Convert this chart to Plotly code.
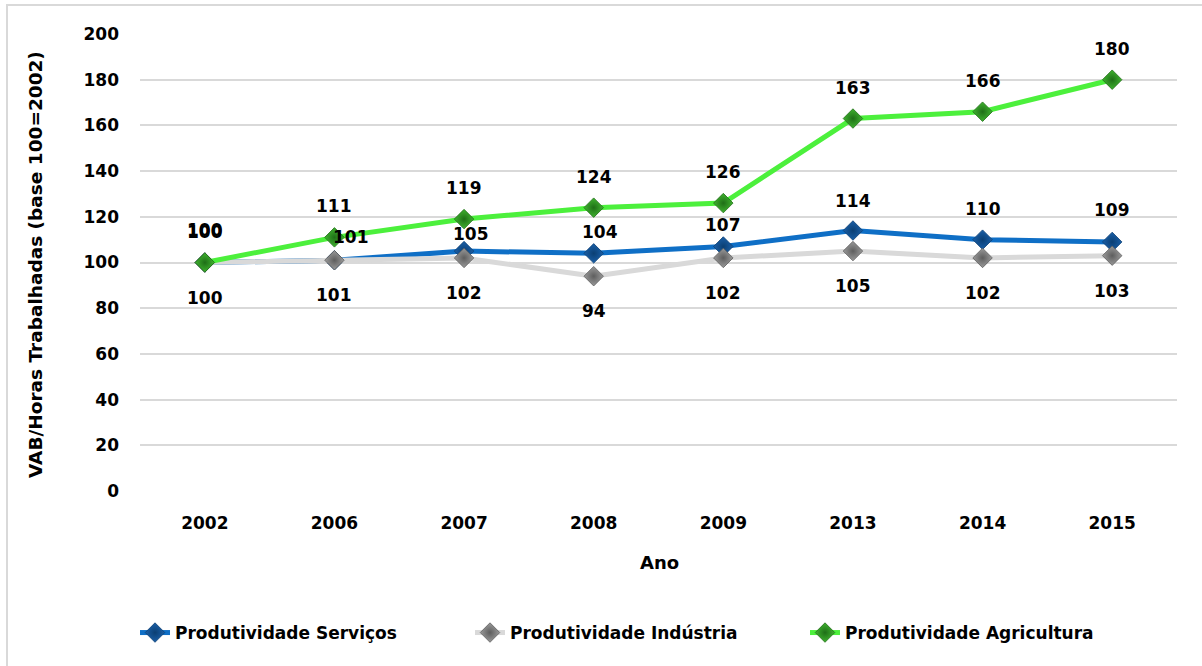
import plotly.graph_objects as go

# Productivity index by sector (base 100 = 2002)
anos = ["2002", "2006", "2007", "2008", "2009", "2013", "2014", "2015"]
servicos = [100, 101, 105, 104, 107, 114, 110, 109]
industria = [100, 101, 102, 94, 102, 105, 102, 103]
agricultura = [100, 111, 119, 124, 126, 163, 166, 180]
y_ticks = [0, 20, 40, 60, 80, 100, 120, 140, 160, 180, 200]

# label offsets (pixels) for the services series, which sits between the others
servicos_dx = [0, 17, 7, 6, 0, 0, 0, 0]
servicos_dy = [33, 23, 17, 21, 22, 30, 31, 32]

FONT = "DejaVu Sans"
FS = 17
W, H = 1202, 666
L, R, T, B = 140, 25, 34, 175
pw, ph = W - L - R, H - T - B

series = [
    ("Produtividade Serviços", servicos, "#0F6FC6", "#1A5FA8", "#0B3F73"),
    ("Produtividade Indústria", industria, "#D9D9D9", "#9A9A9A", "#5E5E5E"),
    ("Produtividade Agricultura", agricultura, "#4CF03C", "#3FB32F", "#1F6E17"),
]

fig = go.Figure()
for name, vals, line_c, mk_c, mk_edge in series:
    fig.add_trace(go.Scatter(
        x=anos, y=vals, name=name, mode="lines+markers",
        line=dict(color=line_c, width=5),
        marker=dict(symbol="diamond", size=15, color=mk_c,
                    gradient=dict(type="radial", color=mk_edge),
                    line=dict(color=mk_edge, width=0.8)),
        hoverinfo="skip",
    ))

annotations = []
lab_font = dict(family=FONT, size=FS, color="#000000", weight="bold")
for i, a in enumerate(anos):
    # category axis: annotations are placed by category index
    annotations.append(dict(x=i, y=agricultura[i], text=str(agricultura[i]), showarrow=False,
                            yshift=31, font=lab_font))
    annotations.append(dict(x=i, y=servicos[i], text=str(servicos[i]), showarrow=False,
                            xshift=servicos_dx[i], yshift=servicos_dy[i], font=lab_font))
    annotations.append(dict(x=i, y=industria[i], text=str(industria[i]), showarrow=False,
                            yshift=-35, font=lab_font))

# axis titles
annotations.append(dict(xref="paper", yref="paper", x=(35 - L) / pw, y=(H - B - 265) / ph,
                        xanchor="center", yanchor="middle",
                        text="VAB/Horas Trabalhadas (base 100=2002)", textangle=-90,
                        showarrow=False, font=dict(family=FONT, size=18.5, color="#000", weight="bold")))
annotations.append(dict(xref="paper", yref="paper", x=(659 - L) / pw, y=(H - B - 562) / ph,
                        xanchor="center", yanchor="middle",
                        text="Ano", showarrow=False,
                        font=dict(family=FONT, size=FS + 1, color="#000", weight="bold")))

# outer frame of the chart area
shapes = [dict(type="rect", xref="paper", yref="paper", layer="below",
               x0=(7 - L) / pw, x1=(1215 - L) / pw, y0=(H - B - 680) / ph, y1=(H - B - 5) / ph,
               line=dict(color="#D9D9D9", width=2), fillcolor="rgba(0,0,0,0)")]

fig.update_layout(
    width=W, height=H,
    margin=dict(l=L, r=R, t=T, b=B),
    paper_bgcolor="white", plot_bgcolor="white",
    font=dict(family=FONT, size=FS, color="#000"),
    showlegend=True,
    legend=dict(orientation="h", x=(135 - L) / pw, y=(H - B - 633) / ph,
                xanchor="left", yanchor="middle",
                font=dict(family=FONT, size=FS, color="#000", weight="bold"),
                entrywidth=290, entrywidthmode="pixels", tracegroupgap=0),
    annotations=annotations,
    shapes=shapes,
    xaxis=dict(type="category", categoryorder="array", categoryarray=anos,
               range=[-0.5, len(anos) - 0.5], showgrid=False, zeroline=False,
               showline=False, ticks="", ticklabelstandoff=20,
               tickfont=dict(family=FONT, size=FS, color="#000", weight="bold")),
    yaxis=dict(range=[0, 200], tickvals=y_ticks, showgrid=True, gridcolor="#D9D9D9",
               gridwidth=1.5, zeroline=False, showline=False, ticks="",
               ticklabelstandoff=20,
               tickfont=dict(family=FONT, size=FS, color="#000", weight="bold")),
)

fig.write_html("out.html")
